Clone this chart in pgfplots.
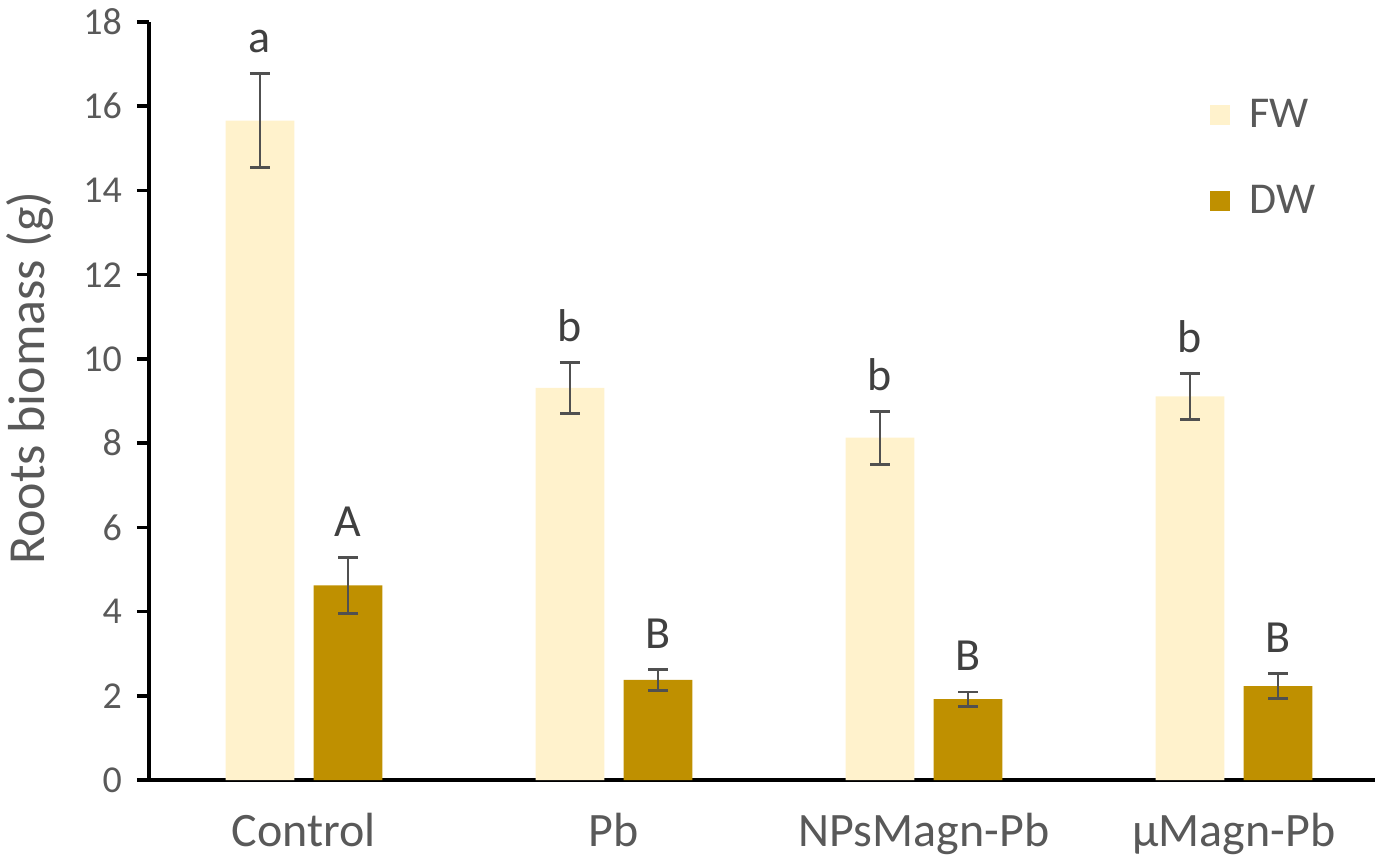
\documentclass[border=0pt]{standalone}
\usepackage{fontspec}
\setmainfont{Carlito}
\usepackage{pgfplots}
\usepackage{pgfplotstable}
\pgfplotsset{compat=1.18}
\definecolor{fwc}{HTML}{FFF2CC}
\definecolor{dwc}{HTML}{BF9000}
\definecolor{txt}{HTML}{595959}
\definecolor{lett}{HTML}{404040}
\definecolor{errc}{HTML}{505050}
\pgfplotstableread{
x fw fwe dw dwe
0 15.66 1.12 4.62 0.67
1 9.31 0.60 2.38 0.25
2 8.13 0.63 1.92 0.17
3 9.11 0.55 2.23 0.29
}\data
\begin{document}
\begin{tikzpicture}
\begin{axis}[
  scale only axis, width=613pt, height=379pt,
  xmin=-0.5, xmax=3.455, ymin=0, ymax=18,
  axis lines=left, axis line style={-, line width=1.8pt, black},
  ytick={0,2,...,18}, tick align=outside, major tick length=6pt,
  ytick style={line width=1.8pt, black},
  xtick={0,1,2,3}, xticklabels={Control, Pb, NPsMagn-Pb, µMagn-Pb},
  xtick style={draw=none},
  /pgf/number format/assume math mode=true,
  yticklabel style={font=\fontsize{19}{22}\selectfont, text=txt, xshift=-4pt},
  xticklabel style={font=\fontsize{24}{28}\selectfont, text=txt, yshift=-7pt},
  ylabel={Roots biomass (g)},
  ylabel style={font=\fontsize{26}{30}\selectfont, text=txt, at={(axis description cs:-0.097,0.53)}, anchor=center},
  ybar, bar width=0.222, bar shift=0pt,
  legend style={at={(rel axis cs:0.86,0.909)}, anchor=north west, draw=none, fill=none,
    font=\fontsize{22}{26}\selectfont, text=txt, row sep=23.5pt, cells={anchor=west}},
  legend image code/.code={\fill[#1, draw=none] (0pt,-5pt) rectangle (10pt,5pt); \path (18pt,0pt);},
  error bars/y dir=both, error bars/y explicit,
  error bars/error bar style={errc, line width=1.4pt},
  error bars/error mark options={errc, line width=1.4pt, mark size=5pt, rotate=90},
  clip=false,
]
\addplot[fill=fwc, draw=none] table[x expr=\thisrow{x}-0.142, y=fw, y error=fwe] {\data};
\addlegendentry{FW}
\addplot[fill=dwc, draw=none] table[x expr=\thisrow{x}+0.142, y=dw, y error=dwe] {\data};
\addlegendentry{DW}
\tikzset{lt/.style={anchor=base, yshift=10.5pt, font=\fontsize{23}{26}\selectfont, text=lett}}
\node[lt] at (axis cs:-0.142,16.78) {a};
\node[lt] at (axis cs:0.142,5.29) {A};
\node[lt] at (axis cs:0.858,9.91) {b};
\node[lt] at (axis cs:1.142,2.63) {B};
\node[lt] at (axis cs:1.858,8.76) {b};
\node[lt] at (axis cs:2.142,2.09) {B};
\node[lt] at (axis cs:2.858,9.66) {b};
\node[lt] at (axis cs:3.142,2.52) {B};
\end{axis}
\pgfresetboundingbox
\useasboundingbox (-74.5pt,-42pt) rectangle (613pt,390pt);
\end{tikzpicture}
\end{document}
